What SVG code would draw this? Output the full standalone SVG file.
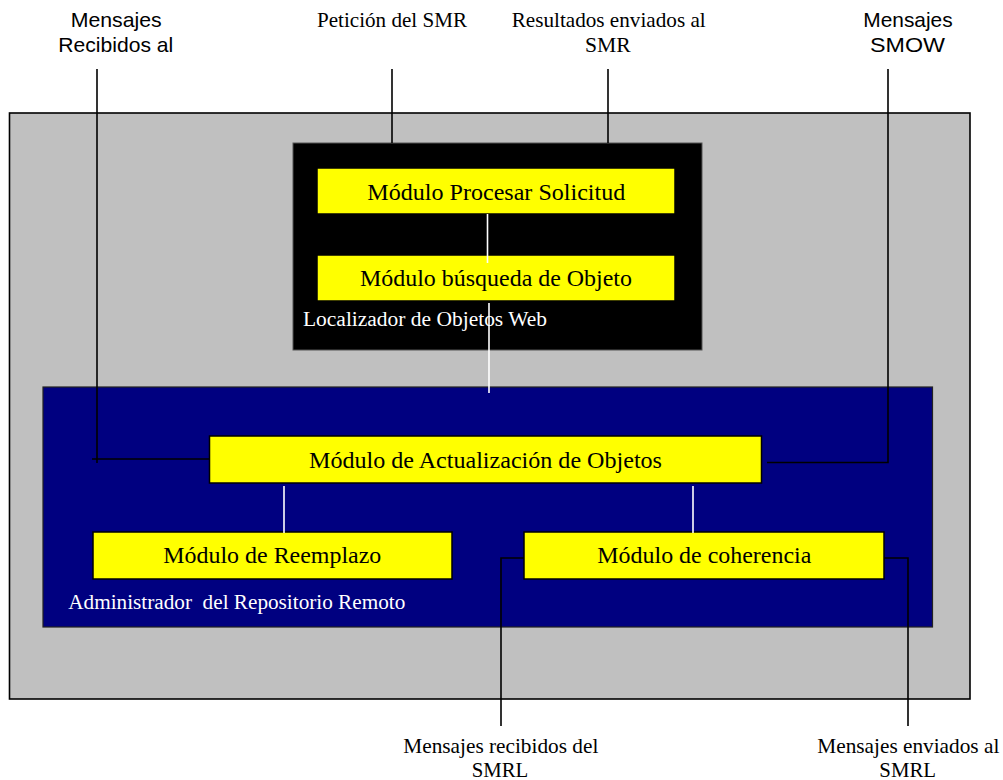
<svg xmlns="http://www.w3.org/2000/svg" width="1003" height="780" viewBox="0 0 1003 780">
<style>
.serif{font-size:21px;fill:#000}
.sans{font-size:21px;fill:#000}
.mod{font-size:23px;fill:#000}
.cap{font-size:20px;fill:#fff;white-space:pre}
.yel{fill:#ffff00;stroke:#000;stroke-width:1.5}
.blk{stroke:#000;stroke-width:1.6;fill:none}
.wht{stroke:#fff;stroke-width:1.6;fill:none}
</style>
<rect width="1003" height="780" fill="#fff"/>
<g id="sistema">
<rect x="9.5" y="113" width="960.5" height="586" fill="#c0c0c0" stroke="#000" stroke-width="1.6"/>
</g>
<g id="localizador">
<rect x="293" y="143" width="409" height="207" fill="#000" stroke="#555" stroke-width="1"/>
<text class="cap" font-family="Liberation Serif, serif" x="303" y="325.5" textLength="244" lengthAdjust="spacingAndGlyphs">Localizador de Objetos Web</text>
</g>
<g id="procesar">
<rect class="yel" x="317" y="168" width="358" height="46" stroke="none"/>
<text class="mod" font-family="Liberation Serif, serif" x="367.3" y="200" textLength="258" lengthAdjust="spacingAndGlyphs">Módulo Procesar Solicitud</text>
</g>
<g id="busqueda">
<rect class="yel" x="317" y="255" width="358" height="46" stroke="none"/>
<text class="mod" font-family="Liberation Serif, serif" x="360" y="286" textLength="272" lengthAdjust="spacingAndGlyphs">Módulo búsqueda de Objeto</text>
</g>
<g id="administrador">
<rect x="43" y="387" width="889.5" height="240" fill="#000080" stroke="#222" stroke-width="1.2"/>
<text class="cap" font-family="Liberation Serif, serif" x="68.3" y="609" textLength="337" lengthAdjust="spacingAndGlyphs" xml:space="preserve">Administrador  del Repositorio Remoto</text>
</g>
<g id="actualizacion">
<rect class="yel" x="209.5" y="436" width="552" height="47"/>
<text class="mod" font-family="Liberation Serif, serif" x="309" y="468" textLength="353" lengthAdjust="spacingAndGlyphs">Módulo de Actualización de Objetos</text>
</g>
<g id="reemplazo">
<rect class="yel" x="93" y="532" width="359" height="47"/>
<text class="mod" font-family="Liberation Serif, serif" x="163.3" y="563" textLength="218" lengthAdjust="spacingAndGlyphs">Módulo de Reemplazo</text>
</g>
<g id="coherencia">
<rect class="yel" x="524" y="532" width="360" height="47"/>
<text class="mod" font-family="Liberation Serif, serif" x="597.3" y="563" textLength="214" lengthAdjust="spacingAndGlyphs">Módulo de coherencia</text>
</g>
<g id="lbl-recibidos-al">
<text class="sans" font-family="Liberation Sans, sans-serif" x="70.7" y="27" textLength="91" lengthAdjust="spacingAndGlyphs">Mensajes</text>
<text class="sans" font-family="Liberation Sans, sans-serif" x="58.3" y="52" textLength="115" lengthAdjust="spacingAndGlyphs">Recibidos al</text>
</g>
<g id="lbl-peticion">
<text class="serif" font-family="Liberation Serif, serif" x="317" y="27" textLength="150" lengthAdjust="spacingAndGlyphs">Petición del SMR</text>
</g>
<g id="lbl-resultados">
<text class="serif" font-family="Liberation Serif, serif" x="511.7" y="27" textLength="194" lengthAdjust="spacingAndGlyphs">Resultados enviados al</text>
<text class="serif" font-family="Liberation Serif, serif" x="585" y="52" textLength="45.7" lengthAdjust="spacingAndGlyphs">SMR</text>
</g>
<g id="lbl-smow">
<text class="sans" font-family="Liberation Sans, sans-serif" x="863.3" y="27" textLength="89.4" lengthAdjust="spacingAndGlyphs">Mensajes</text>
<text class="sans" font-family="Liberation Sans, sans-serif" x="870" y="52" textLength="75" lengthAdjust="spacingAndGlyphs">SMOW</text>
</g>
<g id="lbl-recibidos-smrl">
<text class="serif" font-family="Liberation Serif, serif" x="403.3" y="753" textLength="195" lengthAdjust="spacingAndGlyphs">Mensajes recibidos del</text>
<text class="serif" font-family="Liberation Serif, serif" x="471.7" y="777" textLength="56.6" lengthAdjust="spacingAndGlyphs">SMRL</text>
</g>
<g id="lbl-enviados-smrl">
<text class="serif" font-family="Liberation Serif, serif" x="817.3" y="753" textLength="182" lengthAdjust="spacingAndGlyphs">Mensajes enviados al</text>
<text class="serif" font-family="Liberation Serif, serif" x="879.3" y="777" textLength="56.7" lengthAdjust="spacingAndGlyphs">SMRL</text>
</g>
<g id="connectors">
<polyline class="blk" points="97,69 97,463"/>
<polyline class="blk" points="92,459 209.5,459"/>
<polyline class="blk" points="392,69 392,143"/>
<polyline class="blk" points="608,69 608,143"/>
<polyline class="blk" points="888,69 888,462.5 767,462.5"/>
<polyline class="blk" points="524,558 501,558 501,726"/>
<polyline class="blk" points="884,558 908,558 908,726"/>
<line class="wht" x1="487.5" y1="214" x2="487.5" y2="263"/>
<line class="wht" x1="489" y1="303" x2="489" y2="393"/>
<line class="wht" x1="284" y1="486" x2="284" y2="533"/>
<line class="wht" x1="693" y1="486" x2="693" y2="533"/>
</g>
</svg>
